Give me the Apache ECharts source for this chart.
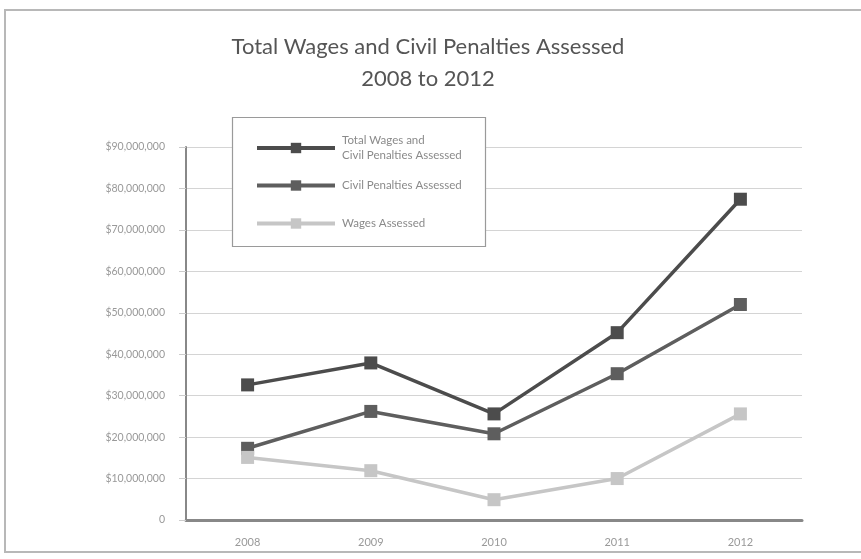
<!DOCTYPE html>
<html>
<head>
<meta charset="utf-8">
<script src="https://cdn.jsdelivr.net/npm/echarts@6/dist/echarts.min.js"></script>
<style>
  html, body { margin: 0; padding: 0; background: #fff; }
  #chart { width: 861px; height: 559px; }
</style>
</head>
<body>
<div id="chart"></div>
<script>
// Fiscal years on the category axis
const years = ['2008', '2009', '2010', '2011', '2012'];

// Amounts assessed per year, in dollars
const totalAssessed = [32600000, 37900000, 25600000, 45200000, 77400000];
const civilPenalties = [17300000, 26200000, 20800000, 35300000, 52000000];
const wagesAssessed = [15100000, 11900000, 4900000, 10000000, 25600000];

// Value axis range and step
const yMin = 0;
const yMax = 90000000;
const yStep = 10000000;

const seriesNames = [
  'Total Wages and\nCivil Penalties Assessed',
  'Civil Penalties Assessed',
  'Wages Assessed'
];
const seriesColors = ['#4c4c4c', '#5e5e5e', '#c6c6c6'];

const font = 'Lato, "Open Sans", sans-serif';

function fmtDollars(v) {
  if (v === 0) return '0';
  return '$' + v.toLocaleString('en-US');
}

function lineSeries(i, data) {
  return {
    name: seriesNames[i],
    type: 'line',
    data: data,
    symbol: 'rect',
    symbolSize: 13,
    showAllSymbol: true,
    lineStyle: { color: seriesColors[i], width: 3.5 },
    itemStyle: { color: seriesColors[i] },
    emphasis: { disabled: true },
    z: 3
  };
}

// One legend row per series, stacked inside a shared framed box
function legendRow(i, top) {
  return {
    orient: 'vertical',
    left: 255,
    top: top,
    padding: 0,
    itemWidth: 78,
    itemHeight: 13,
    itemGap: 0,
    selectedMode: false,
    textStyle: { fontFamily: font, fontSize: 11.5, color: '#8a8a8a', lineHeight: 15, padding: [0, 0, 0, 2] },
    data: [{
      name: seriesNames[i],
      lineStyle: { width: 4, color: seriesColors[i] },
      itemStyle: { color: seriesColors[i] }
    }],
    z: 6
  };
}

const chart = echarts.init(document.getElementById('chart'), null, { renderer: 'canvas' });

chart.setOption({
  backgroundColor: '#fff',
  animation: false,
  textStyle: { fontFamily: font },
  title: {
    text: 'Total Wages and Civil Penalties Assessed\n2008 to 2012',
    left: 423,
    textAlign: 'center',
    top: 26,
    textStyle: {
      fontFamily: font,
      fontSize: 22,
      fontWeight: 'normal',
      color: '#555',
      lineHeight: 32
    }
  },
  legend: [
    legendRow(0, 133),
    legendRow(1, 178),
    legendRow(2, 216)
  ],
  grid: {
    left: 186,
    right: 59,
    top: 147,
    bottom: 39,
    containLabel: false
  },
  xAxis: {
    type: 'category',
    data: years,
    boundaryGap: true,
    axisLine: { lineStyle: { color: '#888', width: 3 } },
    axisTick: { show: false },
    axisLabel: { color: '#999', fontSize: 11, margin: 17, fontFamily: font },
    splitLine: { show: false }
  },
  yAxis: {
    type: 'value',
    min: yMin,
    max: yMax,
    interval: yStep,
    axisLine: { show: true, lineStyle: { color: '#888', width: 2 } },
    axisTick: { show: true, length: 7, lineStyle: { color: '#ccc' } },
    axisLabel: { color: '#999', fontSize: 10.5, margin: 21, fontFamily: font, formatter: fmtDollars },
    splitLine: { show: true, lineStyle: { color: '#d4d4d4', width: 1 } }
  },
  graphic: [
    {
      type: 'rect',
      shape: { x: 5, y: 10, width: 880, height: 542 },
      style: { fill: 'none', stroke: '#b8b8b8', lineWidth: 2 },
      silent: true,
      z: -1
    },
    {
      // legend frame
      type: 'rect',
      shape: { x: 232.5, y: 117.5, width: 253, height: 129 },
      style: { fill: '#fff', stroke: '#9a9a9a', lineWidth: 1.2 },
      silent: true,
      z: 5
    }
  ],
  series: [
    lineSeries(0, totalAssessed),
    lineSeries(1, civilPenalties),
    lineSeries(2, wagesAssessed)
  ]
});
</script>
</body>
</html>
